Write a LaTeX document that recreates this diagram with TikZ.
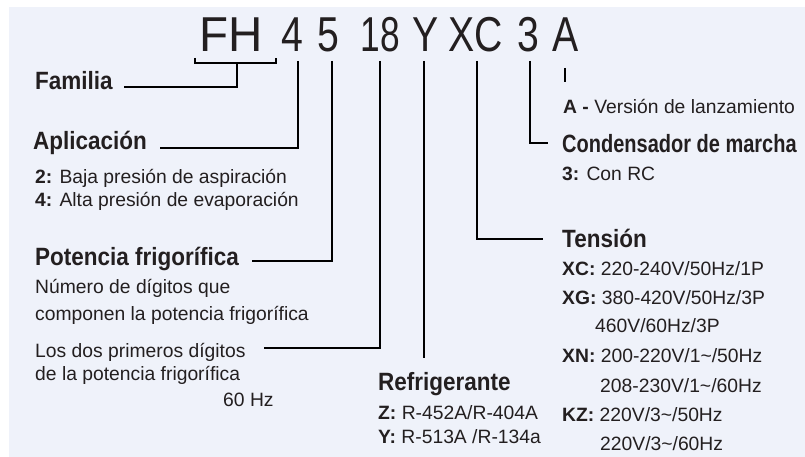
\documentclass[tikz,border=0pt]{standalone}
\usepackage{fontspec}
\setmainfont{Liberation Sans}
\newfontfamily\headfont{Liberation Sans Bold}[FakeStretch=0.9]
\newfontfamily\headnarrowfont{Liberation Sans Bold}[FakeStretch=0.8]
\newfontfamily\codefont{Liberation Sans}[FakeStretch=0.8]
\newfontfamily\codewidefont{Liberation Sans}[FakeStretch=0.97]
\definecolor{bgblue}{HTML}{EFF2FA}
\definecolor{inkgray}{HTML}{231F20}
\tikzset{%
  mycode/.style={anchor=base, inner sep=0pt, text=inkgray, font=\codefont\fontsize{49}{52}\selectfont},
  myhead/.style={anchor=base west, inner sep=0pt, text=inkgray, font=\headfont\fontsize{25}{28}\selectfont},
  mytext/.style={anchor=base west, inner sep=0pt, text=inkgray, font=\fontsize{19.3}{22}\selectfont},
  myline/.style={draw=black, line width=1.6pt}
}

\begin{document}
\begin{tikzpicture}[x=1pt, y=-1pt]
  \useasboundingbox (0,0) rectangle (805,457);
  \fill[bgblue] (9,7) rectangle (805,457);
  % model code
  \node[mycode, font=\codewidefont\fontsize{49}{52}\selectfont] (cFH) at (231.5,52) {FH};
  \node[mycode] (c4) at (292.5,52) {4};
  \node[mycode] (c5) at (328,52) {5};
  \node[mycode, font=\codefont\fontsize{49}{52}\selectfont\addfontfeature{FakeStretch=0.72}] (c18) at (380.5,52) {18};
  \node[mycode] (cY) at (426,52) {Y};
  \node[mycode] (cXC) at (476,52) {XC};
  \node[mycode] (c3) at (528,52) {3};
  \node[mycode] (cA) at (566,52) {A};
  % left side
  \node[myhead] (fam) at (35,90) {Familia};
  \node[myhead] (apl) at (33,150) {Aplicación};
  \node[mytext] (apl2) at (35,183) {\textbf{2:} Baja presión de aspiración};
  \node[mytext] (apl4) at (35,207) {\textbf{4:} Alta presión de evaporación};
  \node[myhead] (pot) at (35,265) {Potencia frigorífica};
  \node[mytext] (pot1) at (35,293) {Número de dígitos que};
  \node[mytext] (pot2) at (35,320) {componen la potencia frigorífica};
  \node[mytext] (dos1) at (35,357) {Los dos primeros dígitos};
  \node[mytext] (dos2) at (35,380) {de la potencia frigorífica};
  \node[mytext] (hz) at (223,406) {60 Hz};
  % refrigerant
  \node[myhead] (ref) at (378,390) {Refrigerante};
  \node[mytext] (refZ) at (378,419) {\textbf{Z:} R-452A/R-404A};
  \node[mytext] (refY) at (378,443) {\textbf{Y:} R-513A /R-134a};
  % right side
  \node[mytext] (ver) at (563,114) {\textbf{A -} Versión de lanzamiento};
  \node[myhead, font=\headnarrowfont\fontsize{25}{28}\selectfont] (con) at (562,153) {Condensador de marcha};
  \node[mytext] (con3) at (562,180) {\textbf{3:} Con RC};
  \node[myhead] (ten) at (562,247) {Tensión};
  \node[mytext] (tXC1) at (562,275) {\textbf{XC:} 220-240V/50Hz/1P};
  \node[mytext] (tXG1) at (562,304) {\textbf{XG:} 380-420V/50Hz/3P};
  \node[mytext] (tXG2) at (595,332) {460V/60Hz/3P};
  \node[mytext] (tXN1) at (562,362) {\textbf{XN:} 200-220V/1\textasciitilde/50Hz};
  \node[mytext] (tXN2) at (600,392) {208-230V/1\textasciitilde/60Hz};
  \node[mytext] (tKZ1) at (562,421) {\textbf{KZ:} 220V/3\textasciitilde/50Hz};
  \node[mytext] (tKZ2) at (600,450) {220V/3\textasciitilde/60Hz};
  % tick points under the code
  \coordinate (tFHl) at (195,58);
  \coordinate (tFHr) at (276,58);
  \coordinate (tFH) at (237,63);
  \coordinate (t4) at (298,61);
  \coordinate (t5) at (332,61);
  \coordinate (t18) at (380,61);
  \coordinate (tY) at (424,61);
  \coordinate (tXC) at (477,61);
  \coordinate (t3) at (530,61);
  \coordinate (tA) at (565,68);
  \coordinate (eY) at ([yshift=32pt]ref.base);
  \coordinate (eA) at ([yshift=32pt]ver.base west);
  % connectors
  \draw[myline] (tFHl) |- (tFH) -| (tFHr);
  \draw[myline] (tFH) |- ([xshift=11pt, yshift=3pt]fam.base east);
  \draw[myline] (t4) |- ([xshift=13pt, yshift=2pt]apl.base east);
  \draw[myline] (t5) |- ([xshift=13pt, yshift=4pt]pot.base east);
  \draw[myline] (t18) |- ([xshift=18pt, yshift=9pt]dos1.base east);
  \draw[myline] (tY) -- (tY |- eY);
  \draw[myline] (tXC) |- ([xshift=-19pt, yshift=8pt]ten.base west);
  \draw[myline] (t3) |- ([xshift=-14pt, yshift=10pt]con.base west);
  \draw[myline, line width=1.3pt] (tA) -- (tA |- eA);
\end{tikzpicture}
\end{document}
